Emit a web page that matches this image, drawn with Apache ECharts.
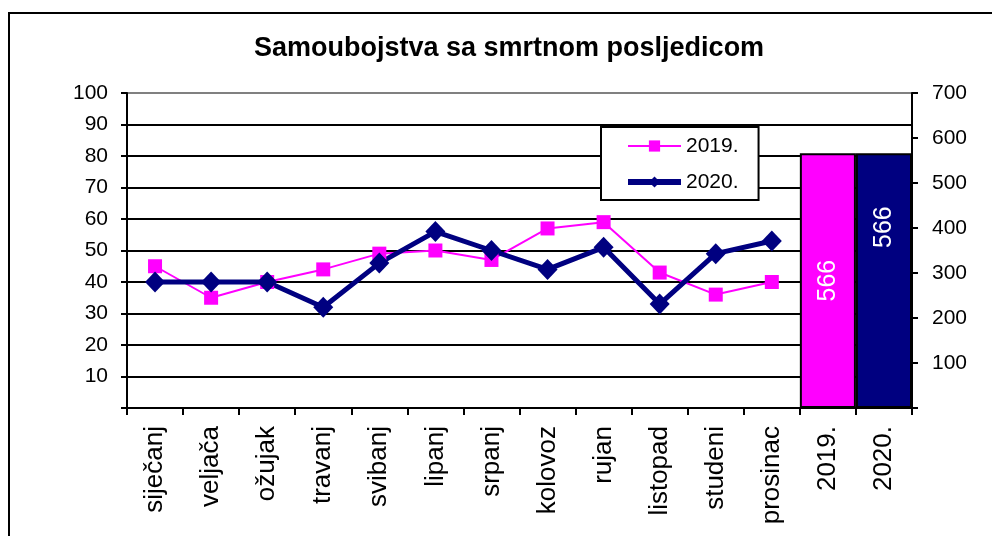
<!DOCTYPE html>
<html>
<head>
<meta charset="utf-8">
<title>Samoubojstva sa smrtnom posljedicom</title>
<script src="https://cdn.jsdelivr.net/npm/echarts@6/dist/echarts.min.js"></script>
<style>
	html, body { margin: 0; padding: 0; background: #fff; }
	#main { width: 992px; height: 536px; }
</style>
</head>
<body>
<div id="main"></div>
<script>
// podaci
var months = ['siječanj', 'veljača', 'ožujak', 'travanj', 'svibanj', 'lipanj', 'srpanj', 'kolovoz', 'rujan', 'listopad', 'studeni', 'prosinac'];
var yearCats = ['2019.', '2020.'];
var deaths2019 = [45, 35, 40, 44, 49, 50, 47, 57, 59, 43, 36, 40];
var deaths2020 = [40, 40, 40, 32, 46, 56, 50, 44, 51, 33, 49, 53];
var totals = [566, 566];
var leftTicks = [0, 100, 10];
var rightTicks = [0, 700, 100];

var font = 'Liberation Sans';
var pink = '#ff00ff';
var navy = '#000080';

var categories = months.concat(yearCats);
var empty = yearCats.map(function() { return null; });
var barData = months.map(function() { return null; });
barData.push({
	value: totals[0],
	itemStyle: { color: pink },
	label: { position: ['50%', '50%'] }
});
barData.push({
	value: totals[1],
	itemStyle: { color: navy },
	label: { position: ['50%', '29%'] }
});

// gornja linija mreže je siva
var gridColors = [];
for (var i = 0; i < 10; i++) gridColors.push('#000');
gridColors.push('#808080');

var chart = echarts.init(document.getElementById('main'));
var option = {
	backgroundColor: '#fff',
	animation: false,
	title: {
		text: 'Samoubojstva sa smrtnom posljedicom',
		left: 254,
		top: 35,
		padding: 0,
		textStyle: { fontFamily: font, fontSize: 27, fontWeight: 'bold', color: '#000' }
	},
	legend: {
		data: [
			{ name: '2019.', itemStyle: { color: pink }, lineStyle: { color: pink, width: 2 } },
			{ name: '2020.', itemStyle: { color: navy }, lineStyle: { color: navy, width: 6 } }
		],
		orient: 'vertical',
		left: 601,
		top: 127,
		padding: [8, 20, 7, 24],
		itemWidth: 53,
		itemHeight: 14,
		itemGap: 14,
		borderColor: '#000',
		borderWidth: 2,
		borderRadius: 0,
		backgroundColor: '#fff',
		textStyle: { fontFamily: font, fontSize: 21, color: '#000', lineHeight: 22 }
	},
	grid: { left: 127, right: 80, top: 93, bottom: 128 },
	xAxis: {
		type: 'category',
		data: categories,
		boundaryGap: true,
		axisLine: { lineStyle: { color: '#000', width: 2 } },
		axisTick: { show: true, length: 7, inside: false, lineStyle: { color: '#000', width: 2 } },
		axisLabel: { rotate: 90, margin: 18, interval: 0, fontFamily: font, fontSize: 26, color: '#000' }
	},
	yAxis: [
		{
			type: 'value',
			min: leftTicks[0],
			max: leftTicks[1],
			interval: leftTicks[2],
			axisLine: { show: true, lineStyle: { color: '#000', width: 2 } },
			axisTick: { show: true, length: 6, lineStyle: { color: '#000', width: 2 } },
			axisLabel: {
				margin: 19,
				fontFamily: font, fontSize: 21, color: '#000',
				formatter: function(v) { return v === 0 ? '' : v; }
			},
			splitLine: { show: true, lineStyle: { color: gridColors, width: 2 } }
		},
		{
			type: 'value',
			position: 'right',
			min: rightTicks[0],
			max: rightTicks[1],
			interval: rightTicks[2],
			axisLine: { show: true, lineStyle: { color: '#000', width: 2 } },
			axisTick: { show: true, length: 6, lineStyle: { color: '#000', width: 2 } },
			axisLabel: {
				margin: 20,
				fontFamily: font, fontSize: 21, color: '#000',
				formatter: function(v) { return v === 0 ? '' : v; }
			},
			splitLine: { show: false }
		}
	],
	series: [
		{
			name: 'ukupno',
			type: 'bar',
			yAxisIndex: 1,
			barWidth: '100%',
			barGap: 0,
			data: barData,
			itemStyle: { borderColor: '#000', borderWidth: 2 },
			label: {
				show: true,
				rotate: 90,
				align: 'center',
				verticalAlign: 'middle',
				fontFamily: font,
				fontSize: 25,
				color: '#fff'
			}
		},
		{
			name: '2019.',
			type: 'line',
			data: deaths2019.concat(empty),
			symbol: 'rect',
			symbolSize: 14,
			lineStyle: { color: pink, width: 2 },
			itemStyle: { color: pink }
		},
		{
			name: '2020.',
			type: 'line',
			data: deaths2020.concat(empty),
			symbol: 'diamond',
			symbolSize: [20, 21],
			lineStyle: { color: navy, width: 5 },
			itemStyle: { color: navy }
		}
	],
	graphic: [
		{
			type: 'rect',
			shape: { x: 9, y: 13, width: 1100, height: 700 },
			style: { fill: null, stroke: '#000', lineWidth: 2 },
			silent: true
		}
	]
};
option && chart.setOption(option);
</script>
</body>
</html>
